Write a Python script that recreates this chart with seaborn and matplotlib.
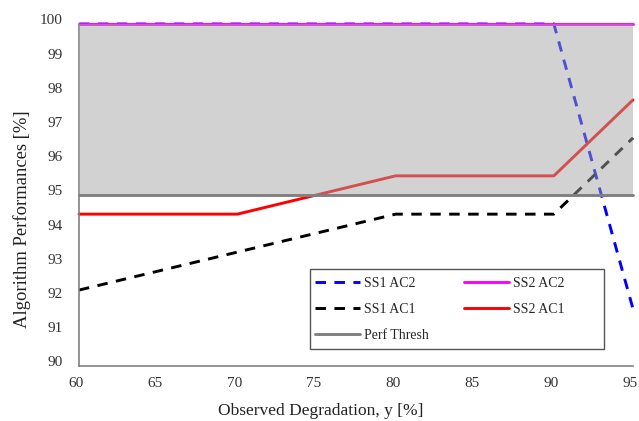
import matplotlib
matplotlib.use("Agg")
import matplotlib.pyplot as plt
import matplotlib.transforms as mtransforms
from matplotlib.patches import Rectangle
import seaborn as sns
import pandas as pd

degradation = [60, 70, 80, 90, 95]
ss1_ac2 = [100, 100, 100, 100, 91.67]
ss2_ac2 = [100, 100, 100, 100, 100]
ss1_ac1 = [92.22, 93.33, 94.44, 94.44, 96.67]
ss2_ac1 = [94.44, 94.44, 95.56, 95.56, 97.78]
perf_thresh = [95, 95, 95, 95, 95]
x_ticks = [60, 65, 70, 75, 80, 85, 90, 95]
y_ticks = [90, 91, 92, 93, 94, 95, 96, 97, 98, 99, 100]

series = {
    "SS1 AC2": ss1_ac2,
    "SS2 AC2": ss2_ac2,
    "SS1 AC1": ss1_ac1,
    "SS2 AC1": ss2_ac1,
    "Perf Thresh": perf_thresh,
}
styles = {
    "SS1 AC2": dict(color="#0000ff", dashes=(3.6, 2.9)),
    "SS2 AC2": dict(color="#ff00ff", dashes=None),
    "SS1 AC1": dict(color="#000000", dashes=(3.6, 2.9)),
    "SS2 AC1": dict(color="#ff0000", dashes=None),
    "Perf Thresh": dict(color="#808080", dashes=None),
}

sns.set_style("white")
plt.rcParams["font.family"] = ["Liberation Serif", "DejaVu Serif"]

W, H = 639, 421
fig = plt.figure(figsize=(W / 100, H / 100), dpi=100)
ax = fig.add_axes([79 / W, 1 - 366 / H, (633 - 79) / W, (366 - 24) / H])

handles = {}
for name, vals in series.items():
    df = pd.DataFrame({"x": degradation, "y": vals})
    st = styles[name]
    before = len(ax.lines)
    sns.lineplot(data=df, x="x", y="y", ax=ax, color=st["color"], linewidth=2.1,
                 zorder=4 if name == "Perf Thresh" else 2)
    ln = ax.lines[before]
    if st["dashes"] is not None:
        ln.set_dashes(st["dashes"])
    ln.set_clip_on(False)
    handles[name] = ln

ax.axhspan(95, 100, color="#a4a4a4", alpha=0.49, lw=0, zorder=3)

ax.set_xlim(60, 95)
ax.set_ylim(90, 100)
ax.set_xticks(x_ticks)
ax.set_yticks(y_ticks)
ax.tick_params(direction="in", length=4.3, width=0.8, color="#808080",
               labelsize=11, labelcolor="#333333")
ax.tick_params(axis="y", pad=11.5)
ax.tick_params(axis="x", pad=8)
for side in ["top", "right"]:
    ax.spines[side].set_visible(False)
for side in ["left", "bottom"]:
    ax.spines[side].set_color("#808080")
    ax.spines[side].set_linewidth(1.2)

dx = mtransforms.ScaledTranslation(-3 / 100, 0, fig.dpi_scale_trans)
for lab in ax.get_xticklabels():
    lab.set_transform(lab.get_transform() + dx)
dy = mtransforms.ScaledTranslation(0, 4.5 / 100, fig.dpi_scale_trans)
for lab in ax.get_yticklabels():
    lab.set_transform(lab.get_transform() + dy)

ax.set_xlabel("Observed Degradation, y [%]", fontsize=12.5, color="#222222")
ax.set_ylabel("Algorithm Performances [%]", fontsize=13.4, color="#222222")
ax.xaxis.set_label_coords(0.437, -0.108)
ax.yaxis.set_label_coords(-0.087, 0.428)

# legend frame
frame = Rectangle((310 / W, 1 - 349 / H), (604 - 310) / W, (349 - 269) / H,
                  transform=fig.transFigure, facecolor="white",
                  edgecolor="#555555", linewidth=1.0, zorder=5)
ax.add_patch(frame)
frame.set_clip_on(False)

order = ["SS1 AC2", "SS1 AC1", "Perf Thresh", "SS2 AC2", "SS2 AC1"]
leg = ax.legend([handles[n] for n in order], order, ncol=2, loc="upper left",
                bbox_to_anchor=(315 / W, 1 - 277 / H),
                bbox_transform=fig.transFigure, frameon=False,
                fontsize=10, handlelength=3.24, labelspacing=0.93,
                handletextpad=0.3, columnspacing=2.5, borderpad=0,
                borderaxespad=0)
leg.set_zorder(6)

fig.savefig("out.png", dpi=100)
